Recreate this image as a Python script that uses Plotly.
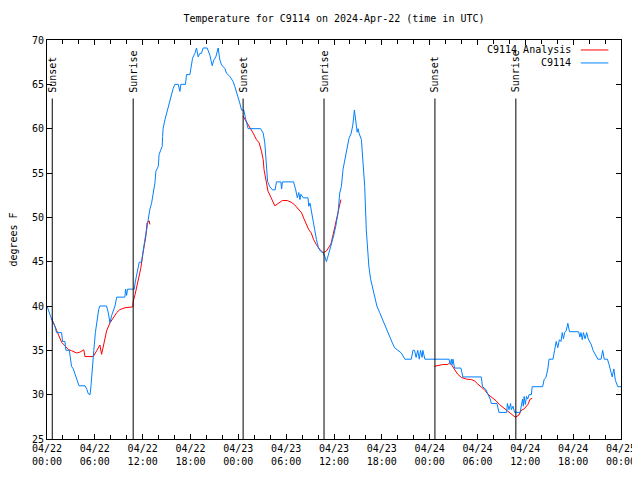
import pandas as pd
import plotly.graph_objects as go

START = "2024-04-22 00:00"

# Observations C9114: hours since 04/22 00:00 UTC, temperature (F)
obs_hours = [0.0, 0.58, 1.0, 1.2, 1.83, 1.95, 2.25, 2.37, 2.8, 3.08, 3.3, 3.6, 3.82, 4.02, 4.76, 5.0, 5.18, 5.4,
             5.52, 5.67, 5.87, 6.07, 6.28, 6.48, 6.63, 7.47, 7.7, 7.9, 8.1, 8.32, 8.53, 8.74, 9.77, 9.86, 9.99,
             10.1, 10.95, 11.05, 11.25, 11.45, 11.57, 11.85, 11.99, 12.28, 12.5, 12.7, 12.9, 13.12, 13.33, 13.54,
             13.66, 13.96, 14.06, 14.26, 14.45, 14.5, 14.56, 14.79, 15.0, 15.2, 15.42, 15.63, 15.83, 16.04, 16.46,
             16.67, 16.79, 17.37, 17.5, 17.92, 18.05, 18.26, 18.55, 18.76, 18.96, 19.18, 19.38, 19.58, 20.09,
             20.19, 20.43, 20.72, 20.93, 21.18, 21.47, 21.68, 21.89, 22.3, 22.52, 22.93, 23.35, 23.56, 23.97,
             24.18, 24.4, 24.68, 24.94, 25.23, 26.78, 27.12, 27.32, 27.42, 27.57, 27.67, 27.92, 28.28, 28.62,
             28.78, 29.33, 29.43, 29.53, 30.93, 31.2, 31.4, 31.58, 31.73, 31.84, 32.14, 32.74, 32.84, 32.99,
             33.14, 33.34, 33.58, 33.8, 34.05, 34.3, 34.63, 34.84, 35.05, 35.18, 35.38, 35.65, 35.95, 36.22,
             36.51, 36.72, 36.93, 37.13, 37.34, 37.63, 37.88, 38.16, 38.36, 38.56, 38.8, 38.91, 39.02, 39.14,
             39.44, 39.64, 39.85, 40.05, 40.17, 40.37, 40.6, 40.88, 41.11, 41.38, 41.73, 42.08, 42.38, 42.68,
             42.98, 43.29, 43.59, 44.03, 44.44, 44.89, 45.7, 45.9, 46.1, 46.3, 46.5, 46.7, 46.85, 47.05, 47.15,
             47.4, 50.42, 50.59, 50.72, 50.82, 50.92, 51.12, 51.92, 52.17, 54.47, 54.63, 55.04, 55.31, 55.6,
             55.74, 56.44, 56.69, 57.65, 57.75, 57.95, 58.15, 58.25, 58.45, 58.65, 59.35, 59.45, 59.65, 59.75,
             59.85, 60.0, 60.15, 60.3, 60.46, 60.76, 60.86, 62.17, 62.37, 62.57, 62.83, 62.97, 63.47, 63.67,
             63.87, 64.07, 64.27, 64.47, 64.63, 64.78, 64.93, 65.13, 65.33, 65.54, 66.69, 66.84, 66.99, 67.14,
             67.29, 67.49, 67.69, 67.89, 68.09, 68.29, 68.49, 68.69, 69.1, 69.5, 69.7, 69.9, 70.3, 70.5, 70.7,
             70.9, 71.1, 71.3, 71.6, 72.0]
obs_temp = [40.0, 38.5, 37.7, 37.0, 37.0, 36.0, 36.0, 35.0, 35.0, 33.2, 32.9, 32.1, 31.6, 31.0, 31.0, 30.6, 30.1, 30.0,
            31.0, 33.0, 35.0, 37.0, 38.5, 39.6, 40.0, 40.0, 39.2, 38.1, 38.9, 39.4, 40.0, 41.0, 41.0, 41.9, 41.2,
            41.9, 41.9, 42.6, 43.4, 44.2, 44.95, 44.95, 46.0, 47.5, 48.6, 49.75, 50.9, 51.6, 52.75, 53.9,
            55.2, 55.75, 57.1, 57.6, 58.0, 59.1, 60.0, 61.0, 61.75, 62.5, 63.25, 64.0, 64.55, 65.0, 65.0,
            64.2, 65.0, 65.0, 66.1, 66.1, 67.0, 67.95, 68.5, 69.1, 68.1, 68.5, 68.5, 69.1, 69.1,
            68.9, 68.3, 67.1, 67.75, 68.1, 69.1, 67.75, 67.2, 66.8, 66.25, 65.9, 65.3, 64.75, 63.6,
            62.9, 62.1, 62.1, 61.0, 60.0, 60.0, 59.5, 58.4, 56.9, 55.0, 54.05, 53.5, 53.1, 53.1,
            54.0, 54.0, 53.2, 54.0, 54.0, 53.1, 52.2, 52.8, 52.0, 52.6, 52.2, 52.2, 51.25, 51.6,
            50.7, 49.75, 48.6, 47.5, 46.55, 46.2, 46.0, 45.6, 45.0, 45.4, 46.0, 46.75, 47.9, 49.0,
            50.5, 52.75, 53.5, 55.4, 56.5, 57.6, 58.9, 59.5, 60.4, 62.1, 60.6, 59.6, 60.0, 59.5,
            58.75, 55.6, 53.5, 48.6, 46.75, 44.5, 43.0, 41.9, 40.75, 40.0, 39.25, 38.5, 37.75, 37.0,
            36.4, 35.9, 35.3, 35.0, 34.7, 34.0, 34.0, 35.0, 35.0, 34.2, 35.0, 34.0, 35.0, 34.2, 35.0,
            34.0, 34.0, 33.4, 34.0, 33.4, 34.0, 33.0, 33.0, 32.0, 32.0, 30.9, 30.6, 30.05, 29.5,
            29.0, 29.0, 28.0, 28.0, 29.0, 28.3, 29.0, 28.3, 28.7, 28.0, 28.0, 28.4, 29.5, 28.7,
            29.8, 28.9, 29.8, 29.5, 30.0, 30.0, 30.9, 30.9, 31.75, 31.9, 32.9, 34.0, 34.0, 35.0,
            36.0, 35.3, 36.2, 36.0, 37.0, 36.3, 37.0, 37.2, 38.05, 37.1, 37.1, 36.5, 37.0, 36.2,
            37.0, 36.3, 37.0, 36.3, 36.0, 35.6, 35.0, 34.7, 34.0, 34.0, 35.0, 34.0, 34.0, 33.4, 32.7,
            32.0, 32.9, 31.6, 30.9, 30.9]

# Analysis C9114 (None = gap)
ana_hours = [0.58, 1.0, 1.42, 1.84, 2.26, 2.67, 3.09, 3.72, 4.12, 4.62, 4.76, 5.8, 6.23, 6.63, 6.85, 7.27, 7.48,
             7.9, 8.32, 8.74, 9.14, 9.77, 10.75, 10.82, 11.05, 11.25, 11.75, 12.05, 12.4, 12.55, 12.83, 12.9,
             None,
             24.6, 25.0, 25.4, 25.86, 26.28, 26.61, 26.92, 27.12, 27.22, 27.45, 27.72, 28.12, 28.57, 28.98,
             29.53, 30.13, 30.63, 31.08, 31.5, 31.94, 32.2, 32.54, 32.84, 33.14, 33.44, 33.8, 34.2, 34.65,
             35.05, 35.45, 35.65, 35.85, 36.22, 36.51, 36.72, 36.86,
             None,
             48.6, 49.04, 49.66, 50.28, 50.5, 50.72, 51.12, 51.52, 51.96, 52.63, 53.23, 53.63, 54.03, 54.43,
             54.88, 55.31, 55.94, 56.34, 56.74, 57.25, 57.65, 58.25, 58.75, 59.2, 59.45, 59.86, 60.32, 60.61,
             60.86]
ana_temp = [38.6, 37.75, 36.8, 35.9, 35.5, 35.1, 34.95, 34.7, 34.8, 35.05, 34.3, 34.3, 34.95, 35.6, 34.55, 36.4, 37.2,
            38.1, 38.7, 39.25, 39.6, 39.8, 39.9, 40.55, 41.3, 42.1, 44.2, 46.0, 47.9, 49.4, 49.6, 49.2,
            None,
            61.4, 60.8, 60.25, 59.5, 58.75, 58.4, 57.4, 56.5, 55.4, 54.25, 52.95, 52.2, 51.3, 51.55,
            51.9, 51.9, 51.7, 51.4, 50.9, 50.5, 49.9, 49.2, 48.6, 48.25, 47.5, 46.9, 46.4, 46.0,
            46.2, 46.75, 47.1, 47.9, 49.4, 50.5, 51.6, 52.0,
            None,
            33.2, 33.3, 33.4, 33.4, 33.6, 33.4, 32.9, 32.3, 31.95, 31.75, 31.7, 31.55, 31.2, 30.9,
            30.55, 30.05, 29.6, 29.3, 28.9, 28.55, 28.2, 27.8, 27.45, 27.7, 28.2, 28.4, 28.9, 29.5,
            29.6]

sun_hours = [0.66, 10.81, 24.6, 34.75, 48.66, 58.81]
sun_labels = ["Sunset", "Sunrise", "Sunset", "Sunrise", "Sunset", "Sunrise"]
sun_line_top = 63.4

t0 = pd.Timestamp(START)


def to_time(hs):
    return [None if h is None else t0 + pd.Timedelta(hours=h) for h in hs]


FONT = "DejaVu Sans Mono"
RED = "#ff0000"
BLUE = "#0080ff"

fig = go.Figure()
fig.add_trace(go.Scatter(x=to_time(ana_hours), y=ana_temp, mode="lines", name="C9114 Analysis",
                         line=dict(color=RED, width=1), connectgaps=False))
fig.add_trace(go.Scatter(x=to_time(obs_hours), y=obs_temp, mode="lines", name="C9114",
                         line=dict(color=BLUE, width=1)))

for h, lab in zip(sun_hours, sun_labels):
    t = t0 + pd.Timedelta(hours=h)
    fig.add_shape(type="line", x0=t, x1=t, y0=25, y1=sun_line_top, xref="x", yref="y",
                  line=dict(color="black", width=1))
    fig.add_annotation(x=t, y=sun_line_top, xref="x", yref="y", text=lab, textangle=-90,
                       showarrow=False, xanchor="center", yanchor="bottom", yshift=4,
                       font=dict(family=FONT, size=10, color="black"))

# legend (gnuplot style: text right-aligned, sample line on the right)
legend_items = [("C9114 Analysis", RED), ("C9114", BLUE)]
for i, (name, col) in enumerate(legend_items):
    yp = 0.975 - i * 0.0325
    fig.add_annotation(x=0.917, y=yp, xref="paper", yref="paper", text=name, showarrow=False,
                       xanchor="right", yanchor="middle", font=dict(family=FONT, size=10, color="black"))
    fig.add_shape(type="line", x0=0.93, x1=0.978, y0=yp, y1=yp, xref="paper", yref="paper",
                  line=dict(color=col, width=1))

# page has an 8px body margin, so the figure is sized to fill the rest of the 640x480 window
fig.update_layout(
    width=632, height=472,
    margin=dict(l=39, r=19, t=32, b=41, autoexpand=False),
    paper_bgcolor="white", plot_bgcolor="white",
    showlegend=False,
    font=dict(family=FONT, size=10, color="black"),
    title=dict(text="Temperature for C9114 on 2024-Apr-22 (time in UTC)", x=0.5, xref="paper",
               xanchor="center", y=0.977, yref="container", yanchor="middle",
               font=dict(family=FONT, size=10, color="black")),
)
fig.update_xaxes(
    type="date", range=[t0, t0 + pd.Timedelta(hours=72)], automargin=False,
    tick0=t0, dtick=6 * 3600 * 1000, tickformat="%m/%d<br>%H:%M",
    ticks="inside", ticklen=5, tickcolor="black", mirror="allticks",
    showline=True, linecolor="black", linewidth=1, showgrid=False, zeroline=False,
    minor=dict(ticks="inside", dtick=2 * 3600 * 1000, ticklen=4, tickcolor="black", showgrid=False),
    tickfont=dict(family=FONT, size=10),
)
fig.update_yaxes(
    range=[25, 70], dtick=5, tick0=25, automargin=False,
    ticks="inside", ticklen=5, tickcolor="black", mirror="allticks",
    showline=True, linecolor="black", linewidth=1, showgrid=False, zeroline=False,
    title=dict(text="degrees F", font=dict(family=FONT, size=10), standoff=12),
    tickfont=dict(family=FONT, size=10),
)

fig.write_html("out.html")
